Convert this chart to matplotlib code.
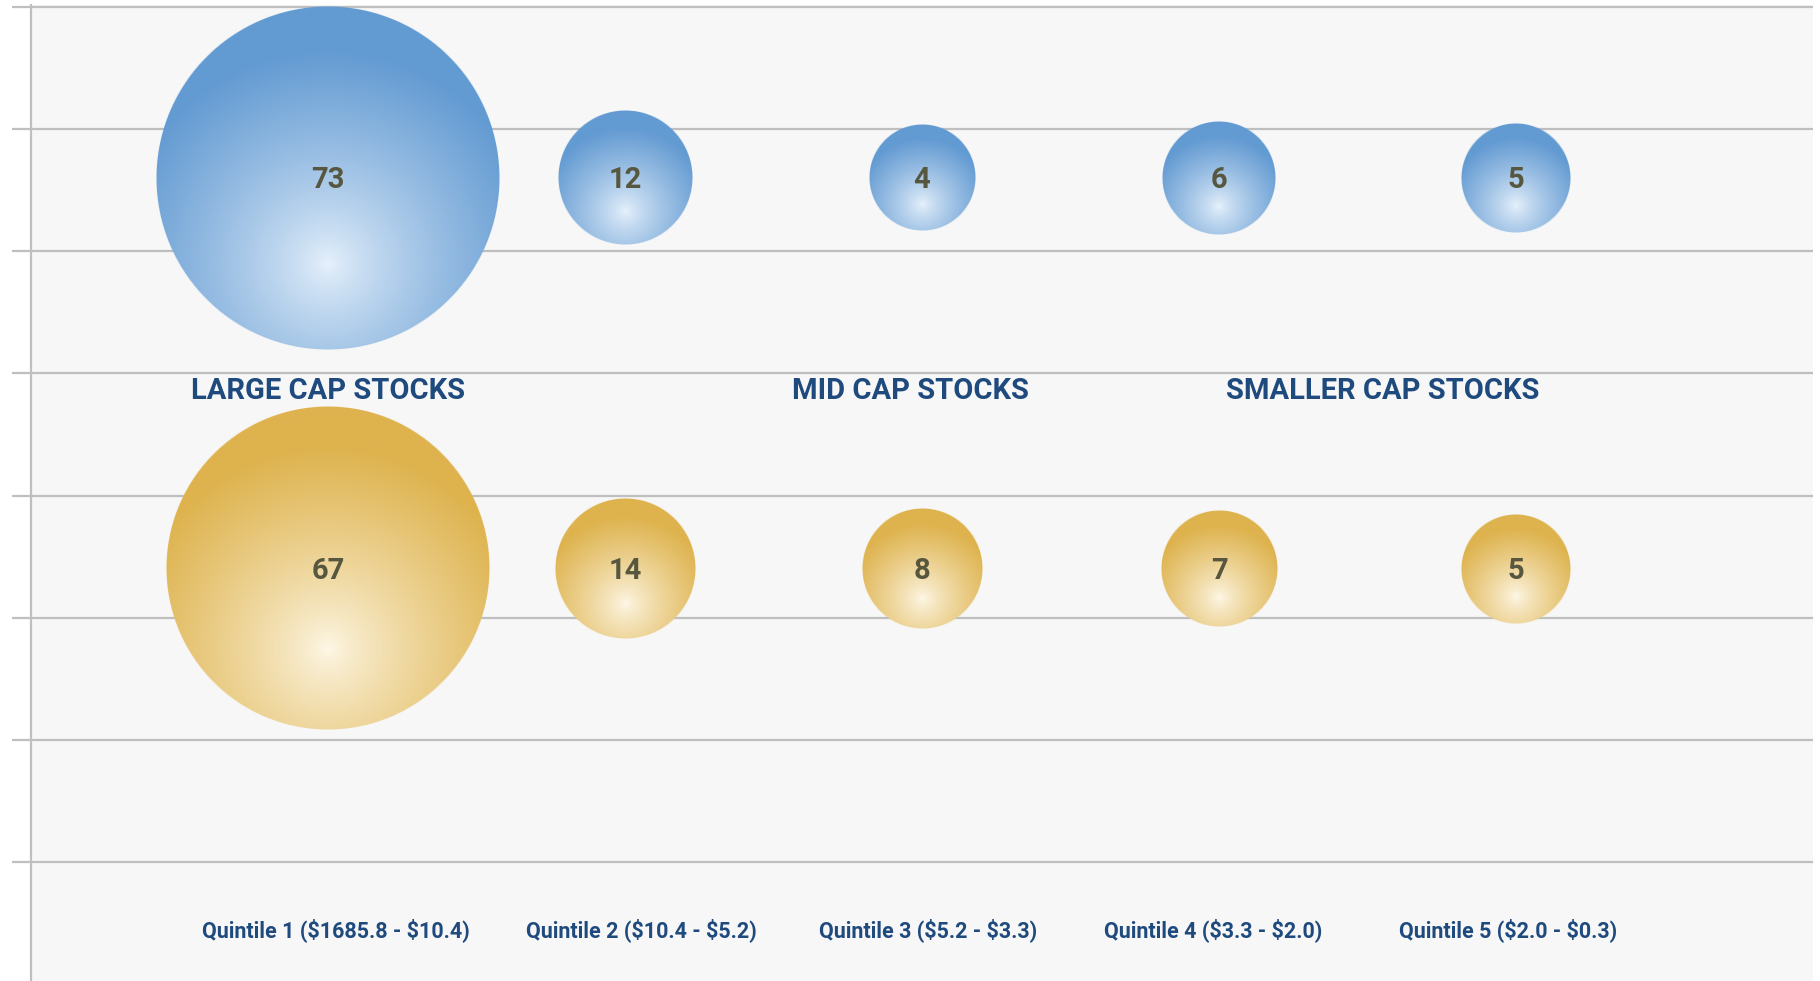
import numpy as np
import matplotlib
matplotlib.use("Agg")
import matplotlib.pyplot as plt

# data
quintiles = ["Quintile 1 ($1685.8 - $10.4)", "Quintile 2 ($10.4 - $5.2)",
             "Quintile 3 ($5.2 - $3.3)", "Quintile 4 ($3.3 - $2.0)",
             "Quintile 5 ($2.0 - $0.3)"]
x_pos = [1, 2, 3, 4, 5]
blue_vals = [73, 12, 4, 6, 5]
gold_vals = [67, 14, 8, 7, 5]
blue_y = 6.6
gold_y = 3.4
groups = ["LARGE CAP STOCKS", "MID CAP STOCKS", "SMALLER CAP STOCKS"]
group_x = [1, 2.96, 4.55]

# small nudges of the quintile labels, as in the original
label_shift = [0.027, 0.055, 0.02, -0.02, -0.027]

plt.rcParams['font.family'] = ['Roboto', 'DejaVu Sans']
plt.rcParams['text.parse_math'] = False

W, H, DPI = 1820, 981, 100
fig = plt.figure(figsize=(W / DPI, H / DPI), dpi=DPI, facecolor='white')
ax = fig.add_axes([31 / W, 0, 1782 / W, 0.9953])
ax.set_facecolor('#F7F7F7')
ax.set_xlim(0, 6)
ax.set_ylim(0.025, 8.02)

ax.set_yticks(range(1, 9))
ax.set_yticklabels([])
ax.set_xticks([])
ax.grid(axis='y', color='#BFBFBF', linewidth=1.6)
ax.set_axisbelow(True)
ax.tick_params(axis='y', direction='out', length=14, width=1.6, color='#BFBFBF')
for s in ['top', 'right', 'bottom']:
    ax.spines[s].set_visible(False)
ax.spines['left'].set_color('#BFBFBF')
ax.spines['left'].set_linewidth(1.6)

px_x = ax.bbox.width / 6.0
px_y = ax.bbox.height / (8.02 - 0.025)


def radius_px(v):
    # bubble size mapping (pixels)
    return 46.4 + 1.72 * v


def bubble(x, y, v, edge, light):
    r = radius_px(v)
    n = int(2 * r) + 2
    g = np.linspace(-1, 1, n)
    u, w = np.meshgrid(g, g)
    d = np.sqrt(u ** 2 + (w + 0.5) ** 2) / 1.25
    t = np.clip(d, 0, 1) ** 0.8
    edge = np.array(edge) / 255.0
    light = np.array(light) / 255.0
    rgb = light[None, None, :] + (edge - light)[None, None, :] * t[..., None]
    rho = np.sqrt(u ** 2 + w ** 2)
    alpha = np.clip((1 - rho) * r + 0.5, 0, 1)
    img = np.dstack([rgb, alpha])
    rx, ry = r / px_x, r / px_y
    ax.imshow(img, extent=[x - rx, x + rx, y - ry, y + ry], origin='lower',
              interpolation='bilinear', zorder=3, aspect='auto')
    ax.text(x, y - 2.3 / px_y, str(v), ha='center', va='center', fontsize=21,
            fontweight='bold', color='#57573F', zorder=5)


for x, v in zip(x_pos, blue_vals):
    bubble(x, blue_y, v, (98, 154, 210), (232, 242, 252))
for x, v in zip(x_pos, gold_vals):
    bubble(x, gold_y, v, (222, 179, 78), (254, 248, 232))

for gx, name in zip(group_x, groups):
    ax.text(gx, 4.86, name, ha='center', va='center', fontsize=21,
            fontweight='bold', color='#1F4A7E', zorder=5)

for x, q, dx in zip(x_pos, quintiles, label_shift):
    ax.text(x + dx, 0.44, q, ha='center', va='center', fontsize=15.5,
            fontweight='bold', color='#1F4A7E', zorder=5)

ax.set_aspect('auto')
fig.savefig("out.png", dpi=DPI, facecolor='white')
